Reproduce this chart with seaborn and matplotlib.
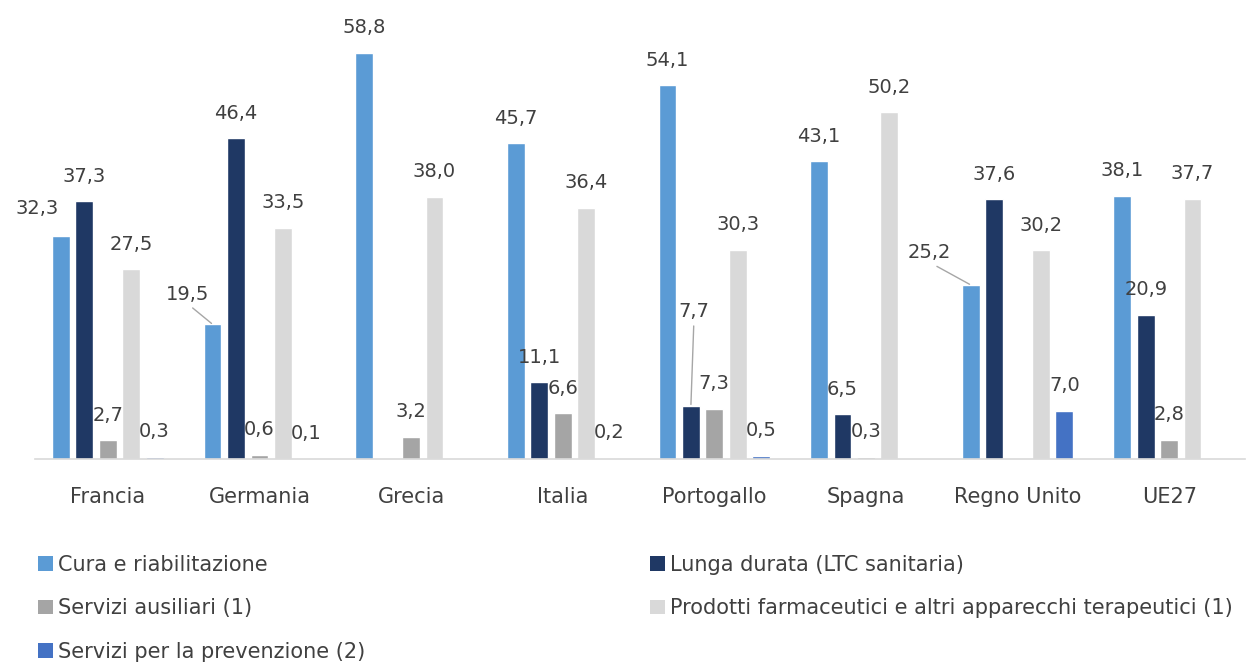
import numpy as np
import pandas as pd
import matplotlib
matplotlib.use("Agg")
import matplotlib.pyplot as plt
from matplotlib.patches import Patch
import seaborn as sns

# ---- data ----
countries = ["Francia", "Germania", "Grecia", "Italia", "Portogallo", "Spagna", "Regno Unito", "UE27"]
series = ["Cura e riabilitazione", "Lunga durata (LTC sanitaria)", "Servizi ausiliari (1)",
          "Prodotti farmaceutici e altri apparecchi terapeutici (1)", "Servizi per la prevenzione (2)"]
cura = [32.3, 19.5, 58.8, 45.7, 54.1, 43.1, 25.2, 38.1]
lunga = [37.3, 46.4, None, 11.1, 7.7, 6.5, 37.6, 20.9]
ausiliari = [2.7, 0.6, 3.2, 6.6, 7.3, 0.3, None, 2.8]
farmaceutici = [27.5, 33.5, 38.0, 36.4, 30.3, 50.2, 30.2, 37.7]
prevenzione = [0.3, 0.1, None, 0.2, 0.5, None, 7.0, None]
colors = ["#5B9BD5", "#1F3864", "#A5A5A5", "#D9D9D9", "#4472C4"]

# label adjustments (pixels) for a few labels: (country idx, series idx) -> (dx, dy, leader)
label_adjust = {
    (0, 0): (-24, 27, False),
    (1, 0): (-25, 30, True),
    (4, 1): (3, 94, True),
    (6, 0): (-41, 32, True),
}

rows = []
for s, vals in zip(series, [cura, lunga, ausiliari, farmaceutici, prevenzione]):
    for c, v in zip(countries, vals):
        if v is not None:
            rows.append({"Paese": c, "Serie": s, "Valore": v})
df = pd.DataFrame(rows)

W, H = 1249, 664
fig = plt.figure(figsize=(W / 100, H / 100), dpi=100)
sns.set_style("white")
plt.rcParams["font.family"] = ["DejaVu Sans"]

ax = fig.add_axes([35 / W, 1 - 459 / H, 1210 / W, (459 - 10) / H])
sns.barplot(data=df, x="Paese", y="Valore", hue="Serie", order=countries, hue_order=series,
            palette=colors, width=0.772, gap=0.24, errorbar=None, ax=ax, legend=False,
            saturation=1)

ax.set_ylim(0, 65)
ax.set_xlim(-0.48, 7.5)
ax.set_xlabel("")
ax.set_ylabel("")
ax.set_yticks([])
for sp in ["left", "right", "top"]:
    ax.spines[sp].set_visible(False)
ax.spines["bottom"].set_color("#D9D9D9")
ax.spines["bottom"].set_linewidth(1.2)
ax.tick_params(axis="x", length=0, pad=20, labelsize=15, labelcolor="#404040")

txtcol = "#404040"
for si, cont in enumerate(ax.containers):
    for bar in cont:
        h = bar.get_height()
        if np.isnan(h):
            continue
        xc = bar.get_x() + bar.get_width() / 2
        ci = int(round(xc))
        lab = f"{h:.1f}".replace(".", ",")
        dx, dy, leader = label_adjust.get((ci, si), (0, 25, False))
        if leader:
            ax.annotate(lab, xy=(xc, h), xytext=(dx, dy), textcoords="offset pixels",
                        ha="center", va="center", fontsize=14, color=txtcol,
                        arrowprops=dict(arrowstyle="-", color="#A6A6A6", lw=1,
                                        shrinkA=1, shrinkB=1, relpos=(0.5, 0)))
        else:
            ax.annotate(lab, xy=(xc, h), xytext=(dx, dy), textcoords="offset pixels",
                        ha="center", va="center", fontsize=14, color=txtcol)

handles = [Patch(facecolor=c, edgecolor="none") for c in colors]
leg_kw = dict(frameon=False, fontsize=15, handlelength=0.72, handleheight=0.72,
              handletextpad=0.25, labelspacing=1.12, borderpad=0, borderaxespad=0,
              loc="upper left", labelcolor=txtcol)
leg1 = fig.legend([handles[0], handles[2], handles[4]], [series[0], series[2], series[4]],
                  bbox_to_anchor=(38 / W, 1 - 555 / H), **leg_kw)
leg2 = fig.legend([handles[1], handles[3]], [series[1], series[3]],
                  bbox_to_anchor=(650 / W, 1 - 555 / H), **leg_kw)

fig.savefig("out.png", dpi=100)
